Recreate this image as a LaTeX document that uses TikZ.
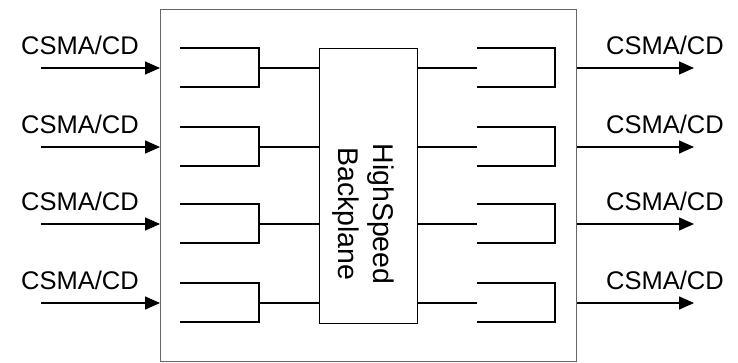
\documentclass[tikz,border=0pt]{standalone}
\usepackage{fontspec}
\setmainfont{Liberation Sans}
\usetikzlibrary{arrows.meta}
\begin{document}
\begin{tikzpicture}[x=1pt,y=-1pt, line width=1.5pt,
  lbl/.style={font=\fontsize{25.5}{30}\selectfont, inner sep=0pt},
  arr/.style={-{Triangle[length=15pt,width=13pt]}},
  box/.style={draw, inner sep=0pt, anchor=north west}]
\useasboundingbox (0,0) rectangle (738,363);
\node[box, draw=black!60, line width=1.1pt, minimum width=416pt, minimum height=352pt] (outer) at (160,9) {};
\node[box, line width=1.2pt, minimum width=98pt, minimum height=275pt] (bp) at (319,48) {};
\node[lbl, rotate=-90, align=center, font=\fontsize{28.5}{35}\selectfont] (bptext) at (363.5,214) {HighSpeed\\Backplane};
\foreach \i/\t in {0/48,1/127,2/204,3/283}{
  \pgfmathsetmacro{\s}{\t+20}
  \pgfmathsetmacro{\b}{\t+39}
  \coordinate (lt\i) at (180,\t);
  \coordinate (lb\i) at (180,\b);
  \coordinate (lj\i) at (259,\s);
  \coordinate (rt\i) at (477,\t);
  \coordinate (rb\i) at (477,\b);
  \coordinate (rj\i) at (477,\s);
  \coordinate (in\i) at (41,\s);
  \coordinate (out\i) at (694,\s);
  \draw (lt\i) -| (lj\i) |- (lb\i);
  \draw (lj\i) -- (lj\i -| bp.west);
  \draw (rt\i) -| ([xshift=78pt]rj\i) |- (rb\i);
  \draw (rj\i -| bp.east) -- (rj\i);
  \draw[arr] (in\i) -- (in\i -| outer.west);
  \draw[arr] (out\i -| outer.east) -- (out\i);
  \node[lbl] (linlbl\i) at (80,\s-23) {CSMA/CD};
  \node[lbl] (outlbl\i) at (665,\s-23) {CSMA/CD};
}
\end{tikzpicture}
\end{document}
